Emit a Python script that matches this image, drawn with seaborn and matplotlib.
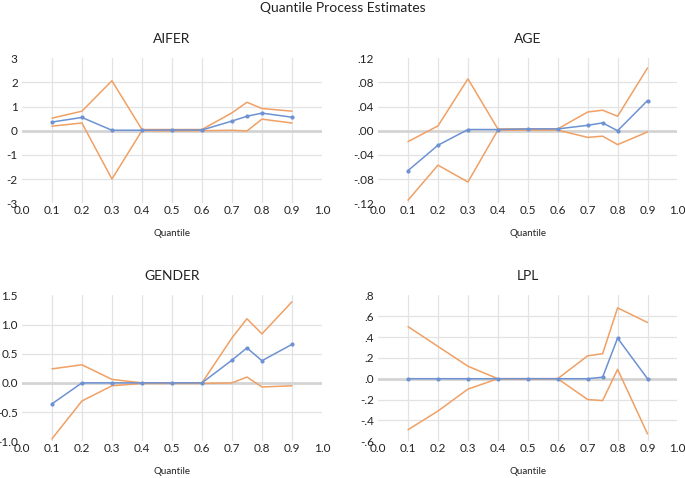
import numpy as np
import pandas as pd
import seaborn as sns
import matplotlib.pyplot as plt
from matplotlib.ticker import FuncFormatter

quantiles = [0.1, 0.2, 0.3, 0.4, 0.5, 0.6, 0.7, 0.75, 0.8, 0.9]

aifer_est = [0.36, 0.55, 0.02, 0.02, 0.03, 0.03, 0.40, 0.60, 0.73, 0.56]
aifer_up = [0.52, 0.81, 2.07, 0.05, 0.05, 0.05, 0.74, 1.18, 0.92, 0.81]
aifer_lo = [0.19, 0.32, -2.00, 0.00, -0.01, 0.00, 0.02, -0.01, 0.48, 0.32]

age_est = [-0.066, -0.024, 0.002, 0.002, 0.003, 0.003, 0.009, 0.013, 0.000, 0.050]
age_up = [-0.018, 0.008, 0.086, 0.003, 0.003, 0.003, 0.031, 0.034, 0.024, 0.104]
age_lo = [-0.115, -0.057, -0.085, 0.001, 0.001, 0.001, -0.011, -0.009, -0.023, -0.002]

gender_est = [-0.36, 0.00, 0.00, 0.00, 0.00, 0.00, 0.39, 0.60, 0.38, 0.66]
gender_up = [0.24, 0.31, 0.06, 0.00, 0.00, 0.00, 0.77, 1.10, 0.84, 1.39]
gender_lo = [-0.96, -0.31, -0.05, -0.01, -0.01, -0.01, 0.00, 0.10, -0.07, -0.05]

lpl_est = [0.0, 0.0, 0.0, 0.0, 0.0, 0.0, 0.0, 0.015, 0.39, 0.0]
lpl_up = [0.50, 0.31, 0.12, 0.00, 0.00, 0.00, 0.22, 0.24, 0.68, 0.54]
lpl_lo = [-0.49, -0.31, -0.10, 0.00, 0.00, 0.00, -0.20, -0.21, 0.09, -0.53]

panels = [
    ("AIFER", aifer_est, aifer_up, aifer_lo, [-3, -2, -1, 0, 1, 2, 3], "int"),
    ("AGE", age_est, age_up, age_lo, [-0.12, -0.08, -0.04, 0, 0.04, 0.08, 0.12], "dot2"),
    ("GENDER", gender_est, gender_up, gender_lo, [-1.0, -0.5, 0, 0.5, 1.0, 1.5], "one"),
    ("LPL", lpl_est, lpl_up, lpl_lo, [-0.6, -0.4, -0.2, 0, 0.2, 0.4, 0.6, 0.8], "dot1"),
]

sns.set_theme(style="white")
plt.rcParams['font.family'] = ['Lato', 'DejaVu Sans']

blue = "#6d92d3"
orange = "#f0a064"


def fmt(kind):
    def f(v, pos):
        if kind == "int":
            return "%d" % round(v)
        if kind == "one":
            return "%.1f" % v
        digits = 2 if kind == "dot2" else 1
        s = ("%." + str(digits) + "f") % abs(v)
        s = s[1:] if s.startswith("0") else s
        return ("-" + s) if v < -1e-9 else s
    return FuncFormatter(f)


fig = plt.figure(figsize=(6.85, 4.78), dpi=100)
boxes = [
    [0.032, 0.575, 0.438, 0.303],
    [0.552, 0.575, 0.437, 0.303],
    [0.032, 0.077, 0.438, 0.305],
    [0.552, 0.077, 0.437, 0.305],
]

for box, (name, est, up, lo, yt, kind) in zip(boxes, panels):
    ax = fig.add_axes(box)
    df = pd.DataFrame({"q": quantiles, "est": est, "up": up, "lo": lo})
    sns.lineplot(data=df, x="q", y="up", color=orange, lw=1.1, ax=ax)
    sns.lineplot(data=df, x="q", y="lo", color=orange, lw=1.1, ax=ax)
    sns.lineplot(data=df, x="q", y="est", color=blue, lw=1.1, marker="o",
                 markersize=3, markeredgewidth=0, ax=ax)
    ax.set_xlim(0, 1)
    ax.set_ylim(yt[0], yt[-1])
    ax.set_xticks(np.round(np.arange(0, 1.01, 0.1), 1))
    ax.xaxis.set_major_formatter(FuncFormatter(lambda v, p: "%.1f" % v))
    ax.set_yticks(yt)
    ax.yaxis.set_major_formatter(fmt(kind))
    ax.grid(True, color="#e3e3e3", lw=0.9)
    xg = ax.xaxis.get_gridlines()
    xg[0].set_visible(False)
    xg[-1].set_visible(False)
    yg = ax.yaxis.get_gridlines()
    yg[0].set_visible(False)
    yg[-1].set_visible(False)
    ax.axhline(0, color="#d4d4d4", lw=2, zorder=1)
    ax.set_axisbelow(True)
    for s in ax.spines.values():
        s.set_visible(False)
    ax.tick_params(axis="both", length=0, labelsize=8.5, colors="#222222")
    ax.tick_params(axis="x", pad=1)
    ax.tick_params(axis="y", pad=3)
    ax.set_xlabel("Quantile", fontsize=7, labelpad=10, color="#222222")
    ax.set_ylabel("")
    ax.set_title(name, fontsize=10, pad=11, color="#222222")

fig.suptitle("Quantile Process Estimates", fontsize=10, y=0.995, color="#222222")
fig.savefig("out.png", dpi=100)
